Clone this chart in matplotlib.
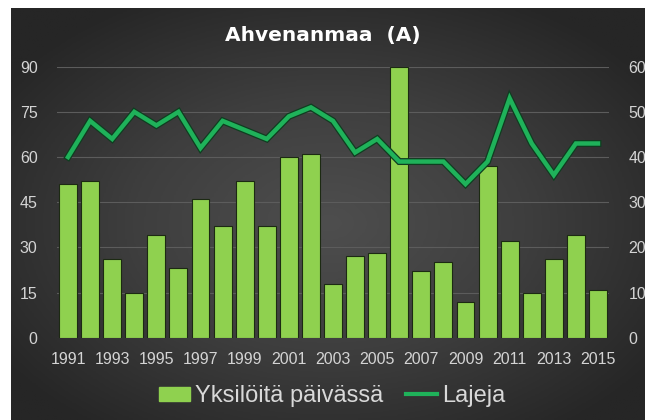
import numpy as np
import matplotlib
matplotlib.use("Agg")
import matplotlib.pyplot as plt
import matplotlib.patheffects as pe
from matplotlib.colors import LinearSegmentedColormap

# ---- data ----
years = list(range(1991, 2016))
individuals = [51, 52, 26, 15, 34, 23, 46, 37, 52, 37, 60, 61, 18, 27, 28, 90,
               22, 25, 12, 57, 32, 15, 26, 34, 16]
species = [40, 48, 44, 50, 47, 50, 42, 48, 46, 44, 49, 51, 48, 41, 44, 39,
           39, 39, 34, 39, 53, 43, 36, 43, 43]
left_ticks = [0, 15, 30, 45, 60, 75, 90]
right_ticks = [0, 10, 20, 30, 40, 50, 60]
title = "Ahvenanmaa  (A)"
bar_label = "Yksilöitä päivässä"
line_label = "Lajeja"

W, H = 645, 420
fig = plt.figure(figsize=(W / 100, H / 100), dpi=100, facecolor="white")

# ---- background panel with radial gradient ----
bg = fig.add_axes([11 / W, 0, 1 - 11 / W, 1 - 8 / H], zorder=0)
ny, nx = 200, 300
yy, xx = np.mgrid[0:ny, 0:nx]
cx, cy = nx * 0.5, ny * 0.52
r = np.sqrt(((xx - cx) / (nx * 0.62)) ** 2 + ((yy - cy) / (ny * 0.62)) ** 2)
r = np.clip(r, 0, 1)
cmap = LinearSegmentedColormap.from_list("bg", ["#4e4e4e", "#3e3e3e", "#262626"])
bg.imshow(r, cmap=cmap, aspect="auto", extent=[0, 1, 0, 1], origin="upper",
          vmin=0, vmax=1)
bg.set_axis_off()

# ---- main axes ----
ax = fig.add_axes([57 / W, 1 - 337.7 / H, (609 - 57) / W, (337.7 - 66.7) / H], zorder=2)
ax.set_facecolor("none")
x = np.arange(len(years))
ax.bar(x, individuals, width=0.81, color="#8fd14f", edgecolor="#1c2a12",
       linewidth=0.8, zorder=3, label=bar_label)
ax.set_xlim(-0.5, len(years) - 0.5)
ax.set_ylim(0, 90)
ax.set_yticks(left_ticks)
ax.grid(axis="y", color="#5c5c5c", linewidth=0.8, zorder=0)
ax.set_axisbelow(True)
for s in ax.spines.values():
    s.set_visible(False)
ax.set_xticks(x[::2])
ax.set_xticklabels([str(y) for y in years[::2]])
tick_font = dict(family="Liberation Sans", size=11.5)
ax.tick_params(axis="both", length=0, colors="#d4d4d4")
ax.tick_params(axis="y", pad=14)
ax.tick_params(axis="x", pad=10)
for lab in ax.get_xticklabels() + ax.get_yticklabels():
    lab.set_fontfamily("Liberation Sans")
    lab.set_fontsize(11.5)

ax2 = ax.twinx()
ax2.set_ylim(0, 60)
ax2.set_yticks(right_ticks)
for s in ax2.spines.values():
    s.set_visible(False)
ax2.tick_params(axis="y", length=0, colors="#d4d4d4", pad=14)
for lab in ax2.get_yticklabels():
    lab.set_fontfamily("Liberation Sans")
    lab.set_fontsize(11.5)
ln, = ax2.plot(x, species, color="#1fb25a", linewidth=3.2, zorder=4,
               solid_joinstyle="miter", label=line_label,
               path_effects=[pe.Stroke(linewidth=5, foreground="#0f3d20"), pe.Normal()])

# ---- title ----
fig.text(0.5, 1 - 35 / H, title, ha="center", va="center", color="white",
         fontsize=14.5, fontweight="bold", family="DejaVu Sans")

# ---- legend ----
handles = [ax.containers[0].patches[0], ln]
leg = fig.legend([plt.Rectangle((0, 0), 1, 1, color="#8fd14f"),
                  plt.Line2D([], [], color="#1fb25a", linewidth=3)],
                 [bar_label, line_label], loc="center",
                 bbox_to_anchor=(0.515, 1 - 396 / H), ncol=2, frameon=False,
                 prop=dict(family="Liberation Sans", size=17),
                 handlelength=1.3, handleheight=0.55, handletextpad=0.2,
                 columnspacing=1.0, labelcolor="#d9d9d9")

fig.savefig("out.png", dpi=100, facecolor="white")
